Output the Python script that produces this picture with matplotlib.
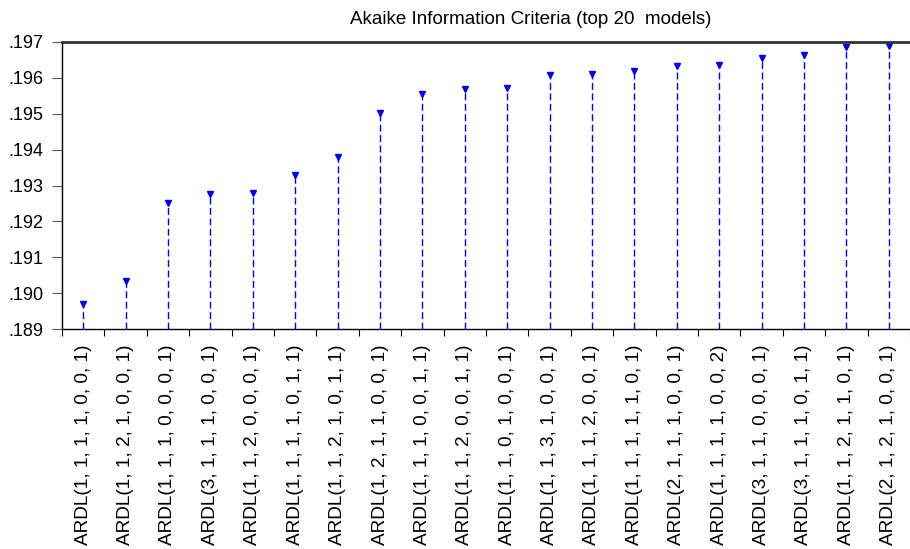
import numpy as np
import matplotlib
matplotlib.use("Agg")
import matplotlib.pyplot as plt
from matplotlib.ticker import FuncFormatter, FixedLocator

plt.rcParams['font.family'] = ['Liberation Sans', 'DejaVu Sans']

# top 20 ARDL specifications and their AIC values
models = [
    "ARDL(1, 1, 1, 1, 0, 0, 1)", "ARDL(1, 1, 2, 1, 0, 0, 1)",
    "ARDL(1, 1, 1, 0, 0, 0, 1)", "ARDL(3, 1, 1, 1, 0, 0, 1)",
    "ARDL(1, 1, 2, 0, 0, 0, 1)", "ARDL(1, 1, 1, 1, 0, 1, 1)",
    "ARDL(1, 1, 2, 1, 0, 1, 1)", "ARDL(1, 2, 1, 1, 0, 0, 1)",
    "ARDL(1, 1, 1, 0, 0, 1, 1)", "ARDL(1, 1, 2, 0, 0, 1, 1)",
    "ARDL(1, 1, 0, 1, 0, 0, 1)", "ARDL(1, 1, 3, 1, 0, 0, 1)",
    "ARDL(1, 1, 1, 2, 0, 0, 1)", "ARDL(1, 1, 1, 1, 1, 0, 1)",
    "ARDL(2, 1, 1, 1, 0, 0, 1)", "ARDL(1, 1, 1, 1, 0, 0, 2)",
    "ARDL(3, 1, 1, 0, 0, 0, 1)", "ARDL(3, 1, 1, 1, 0, 1, 1)",
    "ARDL(1, 1, 2, 1, 1, 0, 1)", "ARDL(2, 1, 2, 1, 0, 0, 1)",
]
aic = [
    0.18970, 0.19033, 0.19251, 0.19275, 0.19279, 0.19328, 0.19379,
    0.19501, 0.19554, 0.19570, 0.19572, 0.19609, 0.19610, 0.19618,
    0.19632, 0.19637, 0.19655, 0.19664, 0.19687, 0.19690,
]
ymin, ymax = 0.189, 0.197
yticks = [0.189, 0.190, 0.191, 0.192, 0.193, 0.194, 0.195, 0.196, 0.197]

fig = plt.figure(figsize=(9.10, 5.49), dpi=100)
ax = fig.add_axes([62 / 910, 220 / 549, 848 / 910, 287 / 549])

x = np.arange(len(models))
ax.vlines(x, ymin, aic, colors='#0000ff', linestyles=(0, (5, 2.5)), linewidth=1.0)
ax.plot(x, aic, linestyle='none', marker='v', color='#0000ff', markersize=5)

ax.set_xlim(-0.5, len(models) - 0.5)
ax.set_ylim(ymin, ymax)

ax.set_yticks(yticks)
ax.yaxis.set_major_formatter(FuncFormatter(lambda v, p: f"{v:.3f}".lstrip("0")))
ax.tick_params(axis='y', direction='out', length=7.5, width=0.8, color='#555555',
               labelsize=13, pad=6)

# labels under each stem, small ticks at category boundaries
ax.set_xticks(x)
ax.set_xticklabels(models, rotation=90, fontsize=13.7)
ax.tick_params(axis='x', which='major', length=0, pad=11)
ax.xaxis.set_minor_locator(FixedLocator(np.arange(-0.5, len(models), 1.0)))
ax.tick_params(axis='x', which='minor', direction='out', length=5, width=0.8)

ax.spines['right'].set_visible(False)
ax.spines['top'].set_color('#333333')
ax.spines['top'].set_linewidth(2)
ax.spines['left'].set_linewidth(1)
ax.spines['bottom'].set_linewidth(1)

fig.text(531 / 910, 1 - 20 / 549, "Akaike Information Criteria (top 20  models)",
         ha='center', va='center', fontsize=13.5)

fig.savefig("out.png", dpi=100)
